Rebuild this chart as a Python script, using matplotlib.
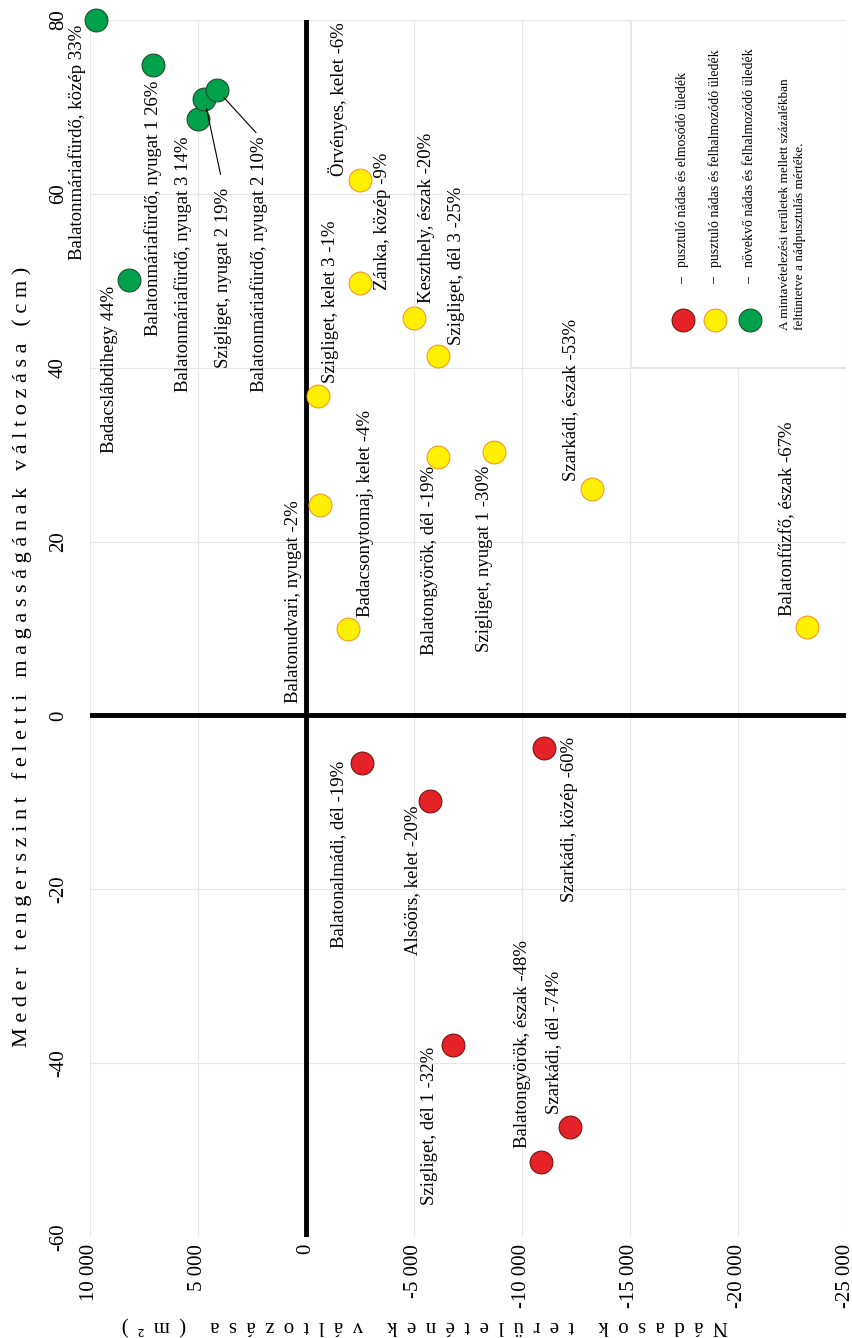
import matplotlib
matplotlib.use("Agg")
import matplotlib.pyplot as plt
from matplotlib.patches import Rectangle
from matplotlib.ticker import FuncFormatter, MultipleLocator

plt.rcParams["font.family"] = ["Liberation Serif", "DejaVu Serif"]
plt.rcParams["axes.unicode_minus"] = False

# Adatok: nádas területváltozás (m2) és a meder magasságváltozás (cm)
nevek_zold = ["Balatonmáriafürdő, közép 33%", "Balatonmáriafürdő, nyugat 1 26%",
              "Balatonmáriafürdő, nyugat 3 14%", "Szigliget, nyugat 2 19%",
              "Balatonmáriafürdő, nyugat 2 10%", "Badacslábdihegy 44%"]
terulet_zold = [9700, 7100, 5000, 4700, 4100, 8200]
meder_zold = [80, 74.8, 68.6, 70.9, 71.9, 50.1]

nevek_sarga = ["Örvényes, kelet -6%", "Zánka, közép -9%", "Keszthely, észak -20%",
               "Szigliget, dél 3 -25%", "Szigliget, kelet 3 -1%",
               "Balatonudvari, nyugat -2%", "Badacsonytomaj, kelet -4%",
               "Balatongyörök, dél -19%", "Szigliget, nyugat 1 -30%",
               "Szarkádi, észak -53%", "Balatonfűzfő, észak -67%"]
terulet_sarga = [-2500, -2500, -5000, -6100, -560, -650, -1950, -6100, -8700, -13250, -23200]
meder_sarga = [61.6, 49.7, 45.7, 41.3, 36.7, 24.2, 10.0, 29.7, 30.3, 26.0, 10.2]

nevek_piros = ["Balatonalmádi, dél -19%", "Alsóörs, kelet -20%", "Szarkádi, közép -60%",
               "Szigliget, dél 1 -32%", "Balatongyörök, észak -48%", "Szarkádi, dél -74%"]
terulet_piros = [-2600, -5750, -11000, -6800, -10900, -12200]
meder_piros = [-5.5, -9.9, -3.7, -37.9, -51.4, -47.3]

jelmagyarazat = ["pusztuló nádas és elmosódó üledék",
                 "pusztuló nádas és felhalmozódó üledék",
                 "növekvő nádas és felhalmozódó üledék"]
megjegyzes = ["A mintavételezési területek mellett százalékban",
              "feltüntetve a nádpusztulás mértéke."]

# feliratok helye a ponthoz képest (pixel, lefelé pozitív), 'eleje' = szöveg kezdete
felirat_hely = {
    "Balatonmáriafürdő, közép 33%": (-19, 5, "vege"),
    "Balatonmáriafürdő, nyugat 1 26%": (0, 15, "vege"),
    "Balatonmáriafürdő, nyugat 3 14%": (-15, 17, "vege"),
    "Szigliget, nyugat 2 19%": (19, 89, "vege"),
    "Balatonmáriafürdő, nyugat 2 10%": (42, 46, "vege"),
    "Badacslábdihegy 44%": (-19, 6, "vege"),
    "Örvényes, kelet -6%": (-22, -4, "eleje"),
    "Zánka, közép -9%": (23, 7, "eleje"),
    "Keszthely, észak -20%": (13, -15, "eleje"),
    "Szigliget, dél 3 -25%": (19, -11, "eleje"),
    "Szigliget, kelet 3 -1%": (12, -13, "eleje"),
    "Balatonudvari, nyugat -2%": (-27, -5, "vege"),
    "Badacsonytomaj, kelet -4%": (17, -12, "eleje"),
    "Balatongyörök, dél -19%": (-8, 9, "vege"),
    "Szigliget, nyugat 1 -30%": (-9, 14, "vege"),
    "Szarkádi, észak -53%": (-22, -8, "eleje"),
    "Balatonfűzfő, észak -67%": (-20, -11, "eleje"),
    "Balatonalmádi, dél -19%": (-24, -2, "vege"),
    "Alsóörs, kelet -20%": (-18, 4, "vege"),
    "Szarkádi, közép -60%": (26, -11, "vege"),
    "Szigliget, dél 1 -32%": (-23, 2, "vege"),
    "Balatongyörök, észak -48%": (-19, -14, "eleje"),
    "Szarkádi, dél -74%": (-16, -13, "eleje"),
}
vezetovonal = {"Szigliget, nyugat 2 19%": 8, "Balatonmáriafürdő, nyugat 2 10%": 1}

csoportok = [
    (nevek_piros, terulet_piros, meder_piros, "#e52227", "#7a1414"),
    (nevek_sarga, terulet_sarga, meder_sarga, "#fff000", "#f39a2b"),
    (nevek_zold, terulet_zold, meder_zold, "#00a14b", "#1d4d2c"),
]

fig = plt.figure(figsize=(8.53, 13.38), dpi=100)
ax = fig.add_axes([90 / 853, 1 - 1237 / 1338, 756 / 853, 1217 / 1338])

ax.set_xlim(10000, -25000)
ax.set_ylim(-60, 80)
ax.xaxis.set_major_locator(MultipleLocator(5000))
ax.yaxis.set_major_locator(MultipleLocator(20))
ax.xaxis.set_major_formatter(FuncFormatter(lambda v, p: f"{int(round(v)):,}".replace(",", " ")))
ax.yaxis.set_major_formatter(FuncFormatter(lambda v, p: f"{int(round(v))}"))
ax.grid(True, color="#e6e6e6", lw=0.8)
ax.set_axisbelow(True)
for s in ax.spines.values():
    s.set_visible(False)
ax.tick_params(axis="both", length=0, labelsize=15)
ax.tick_params(axis="x", pad=5, labelrotation=90)
ax.tick_params(axis="y", pad=16, labelrotation=90)
for t in ax.get_yticklabels():
    t.set_verticalalignment("center")

ax.axhline(0, color="black", lw=3.5, zorder=2)
ax.axvline(0, color="black", lw=3.5, zorder=2)

px = 0.72  # pixel -> pont
for nevek, xs, ys, szin, szel in csoportok:
    ax.scatter(xs, ys, s=270, c=szin, edgecolors=szel, linewidths=0.8, zorder=3, clip_on=False)
    for nev, x, y in zip(nevek, xs, ys):
        dx, dy, oldal = felirat_hely[nev]
        ha = "left" if oldal == "eleje" else "right"
        arrow = None
        if nev in vezetovonal:
            arrow = dict(arrowstyle="-", color="black", lw=0.8, relpos=(0.5, 1.0),
                         shrinkA=vezetovonal[nev], shrinkB=7)
        ax.annotate(nev, (x, y), xytext=(dx * px, -dy * px), textcoords="offset points",
                    rotation=90, rotation_mode="anchor", ha=ha, va="center",
                    fontsize=13.5, zorder=4, arrowprops=arrow)

# jelmagyarázat doboz
ax.add_patch(Rectangle((0.716, 0.715), 0.284, 0.285, transform=ax.transAxes,
                       facecolor="white", edgecolor="#e6e6e6", lw=0.8, zorder=1))
leg_x = [0.784, 0.827, 0.873]
for (nevek, xs, ys, szin, szel), lx, szoveg in zip(csoportok, leg_x, jelmagyarazat):
    ax.scatter([lx], [0.7535], s=270, c=szin, edgecolors=szel, linewidths=0.8,
               transform=ax.transAxes, zorder=3, clip_on=False)
    ax.text(lx, 0.786, "–", transform=ax.transAxes, rotation=90, ha="center", va="center",
            fontsize=10, zorder=4)
    ax.text(lx, 0.797, szoveg, transform=ax.transAxes, rotation=90, rotation_mode="anchor",
            ha="left", va="center", fontsize=10, zorder=4)
for lx, sor in zip([0.919, 0.939], megjegyzes):
    ax.text(lx, 0.745, sor, transform=ax.transAxes, rotation=90, rotation_mode="anchor",
            ha="left", va="center", fontsize=9.5, zorder=4)


def ritkit(szoveg, koz=" "):
    return koz.join(szoveg)


fig.text(22 / 853, 1 - 657 / 1338, ritkit("Meder tengerszint feletti magasságának változása (cm)"),
         rotation=90, ha="center", va="center", fontsize=16)
fig.text(425 / 853, 1 - 1325 / 1338, ritkit("Nádasok területének változása (m²)", " \u2009"),
         rotation=180, ha="center", va="center", fontsize=15)

fig.savefig("out.png", dpi=100)
